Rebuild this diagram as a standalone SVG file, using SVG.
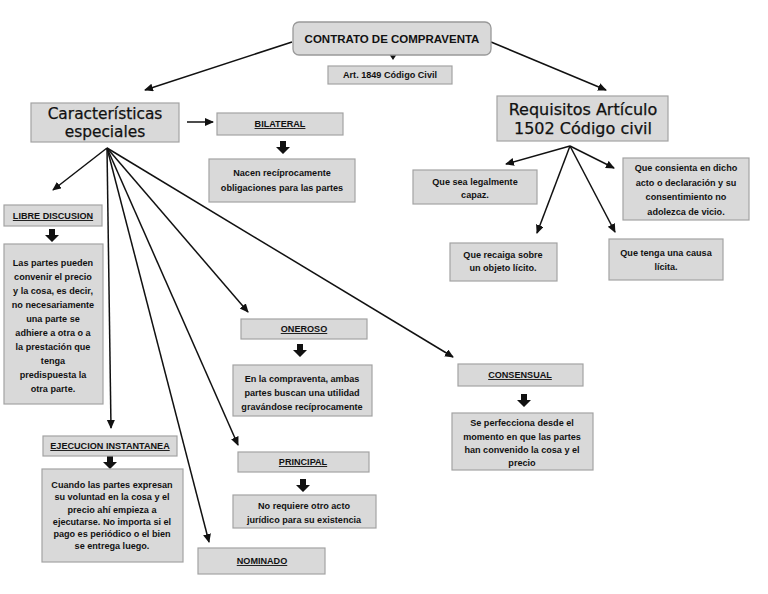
<svg xmlns="http://www.w3.org/2000/svg" width="768" height="594" viewBox="0 0 768 594">
<defs>
<style>
.box{fill:#d9d9d9;stroke:#a3a3a3;stroke-width:1.2}
.t{font-family:"Liberation Sans",Arial,sans-serif;font-weight:bold;font-size:9.1px;fill:#111;text-anchor:middle}
.u{text-decoration:underline}
.big{font-family:"DejaVu Sans",Verdana,sans-serif;font-size:15.4px;fill:#111;text-anchor:middle;stroke:#111;stroke-width:0.25}
.ln{stroke:#111;stroke-width:1.5;fill:none;marker-end:url(#ah)}
.blk{fill:#111}
</style>
<marker id="ah" markerUnits="userSpaceOnUse" markerWidth="10" markerHeight="10" refX="8" refY="4" orient="auto">
<path d="M0,0 L9,4 L0,8 z" fill="#111"/>
</marker>
<path id="ba" d="M-3,0 H3 V6 H7 L0,13 L-7,6 H-3 Z"/>
</defs>
<rect width="768" height="594" fill="#fff"/>

<g id="connectors">
<line class="ln" x1="292" y1="42" x2="145" y2="90"/>
<line class="ln" x1="491" y1="42" x2="606" y2="90"/>
<path class="blk" d="M389,54 L397,54 L393,60 Z"/>
<line class="ln" x1="187" y1="122" x2="213" y2="122"/>
<line class="ln" x1="107" y1="148" x2="53" y2="190"/>
<line class="ln" x1="107" y1="148" x2="111" y2="428"/>
<line class="ln" x1="107" y1="148" x2="209" y2="542"/>
<line class="ln" x1="107" y1="148" x2="238" y2="445"/>
<line class="ln" x1="107" y1="148" x2="248" y2="312"/>
<line class="ln" x1="107" y1="148" x2="453" y2="357"/>
<line class="ln" x1="570" y1="146" x2="506" y2="164"/>
<line class="ln" x1="570" y1="146" x2="614" y2="168"/>
<line class="ln" x1="570" y1="146" x2="537" y2="233"/>
<line class="ln" x1="570" y1="146" x2="615" y2="232"/>
<use href="#ba" class="blk" x="283" y="141"/>
<use href="#ba" class="blk" x="52" y="229"/>
<use href="#ba" class="blk" x="110" y="456"/>
<use href="#ba" class="blk" x="300" y="344"/>
<use href="#ba" class="blk" x="303" y="479"/>
<use href="#ba" class="blk" x="524" y="394"/>
</g>

<g id="title">
<rect x="293" y="22" width="198" height="33" rx="6" fill="#d9d9d9" stroke="#999" stroke-width="1.3"/>
<text class="t" x="392" y="43" style="font-size:11.5px">CONTRATO DE COMPRAVENTA</text>
</g>
<g id="art">
<rect class="box" x="328" y="66" width="124" height="18"/>
<text class="t" x="390" y="78">Art. 1849 Código Civil</text>
</g>

<g id="caracteristicas">
<rect class="box" x="31" y="103" width="148" height="39"/>
<text class="big" x="105" y="119">Características</text>
<text class="big" x="105" y="137">especiales</text>
</g>

<g id="requisitos">
<rect class="box" x="497" y="96" width="171" height="45"/>
<text class="big" x="583" y="115" style="font-size:16px">Requisitos Artículo</text>
<text class="big" x="583" y="134" style="font-size:16px">1502 Código civil</text>
</g>

<g id="bilateral">
<rect class="box" x="217" y="113" width="126" height="22"/>
<text class="t u" x="280" y="127">BILATERAL</text>
</g>
<g id="bilateral-desc">
<rect class="box" x="209" y="159" width="146" height="43"/>
<text class="t" x="282" y="176">Nacen recíprocamente</text>
<text class="t" x="282" y="191">obligaciones para las partes</text>
</g>

<g id="libre">
<rect class="box" x="4" y="205" width="98" height="21"/>
<text class="t u" x="53" y="219">LIBRE DISCUSION</text>
</g>
<g id="libre-desc">
<rect class="box" x="4" y="244" width="99" height="160"/>
<text class="t" x="53" y="266">Las partes pueden</text>
<text class="t" x="53" y="280">convenir el precio</text>
<text class="t" x="53" y="294">y la cosa, es decir,</text>
<text class="t" x="53" y="308">no necesariamente</text>
<text class="t" x="53" y="322">una parte se</text>
<text class="t" x="53" y="336">adhiere a otra o a</text>
<text class="t" x="53" y="350">la prestación que</text>
<text class="t" x="53" y="364">tenga</text>
<text class="t" x="53" y="378">predispuesta la</text>
<text class="t" x="53" y="392">otra parte.</text>
</g>

<g id="ejecucion">
<rect class="box" x="43" y="436" width="134" height="20"/>
<text class="t u" x="110" y="449">EJECUCION INSTANTANEA</text>
</g>
<g id="ejecucion-desc">
<rect class="box" x="42" y="469" width="141" height="93"/>
<text class="t" x="112" y="488">Cuando las partes expresan</text>
<text class="t" x="112" y="500">su voluntad en la cosa y el</text>
<text class="t" x="112" y="513">precio ahí empieza a</text>
<text class="t" x="112" y="525">ejecutarse. No importa si el</text>
<text class="t" x="112" y="537">pago es periódico o el bien</text>
<text class="t" x="112" y="549">se entrega luego.</text>
</g>

<g id="oneroso">
<rect class="box" x="241" y="319" width="126" height="20"/>
<text class="t u" x="304" y="332">ONEROSO</text>
</g>
<g id="oneroso-desc">
<rect class="box" x="233" y="365" width="139" height="51"/>
<text class="t" x="302" y="382">En la compraventa, ambas</text>
<text class="t" x="302" y="396">partes buscan una utilidad</text>
<text class="t" x="302" y="410">gravándose recíprocamente</text>
</g>

<g id="principal">
<rect class="box" x="238" y="452" width="131" height="20"/>
<text class="t u" x="303" y="465">PRINCIPAL</text>
</g>
<g id="principal-desc">
<rect class="box" x="233" y="495" width="143" height="33"/>
<text class="t" x="304" y="509">No requiere otro acto</text>
<text class="t" x="304" y="523">jurídico para su existencia</text>
</g>

<g id="nominado">
<rect class="box" x="198" y="548" width="127" height="26"/>
<text class="t u" x="262" y="564">NOMINADO</text>
</g>

<g id="consensual">
<rect class="box" x="458" y="364" width="125" height="22"/>
<text class="t u" x="520" y="378">CONSENSUAL</text>
</g>
<g id="consensual-desc">
<rect class="box" x="452" y="413" width="141" height="57"/>
<text class="t" x="522" y="426">Se perfecciona desde el</text>
<text class="t" x="522" y="440">momento en que las partes</text>
<text class="t" x="522" y="453">han convenido la cosa y el</text>
<text class="t" x="522" y="466">precio</text>
</g>

<g id="req-capaz">
<rect class="box" x="413" y="170" width="124" height="34"/>
<text class="t" x="475" y="185">Que sea legalmente</text>
<text class="t" x="475" y="198">capaz.</text>
</g>
<g id="req-consienta">
<rect class="box" x="623" y="158" width="126" height="62"/>
<text class="t" x="686" y="171">Que consienta en dicho</text>
<text class="t" x="686" y="186">acto o declaración y su</text>
<text class="t" x="686" y="200">consentimiento no</text>
<text class="t" x="686" y="215">adolezca de vicio.</text>
</g>
<g id="req-objeto">
<rect class="box" x="450" y="243" width="107" height="38"/>
<text class="t" x="503" y="258">Que recaiga sobre</text>
<text class="t" x="503" y="271">un objeto lícito.</text>
</g>
<g id="req-causa">
<rect class="box" x="609" y="239" width="114" height="41"/>
<text class="t" x="666" y="256">Que tenga una causa</text>
<text class="t" x="666" y="270">lícita.</text>
</g>
</svg>
